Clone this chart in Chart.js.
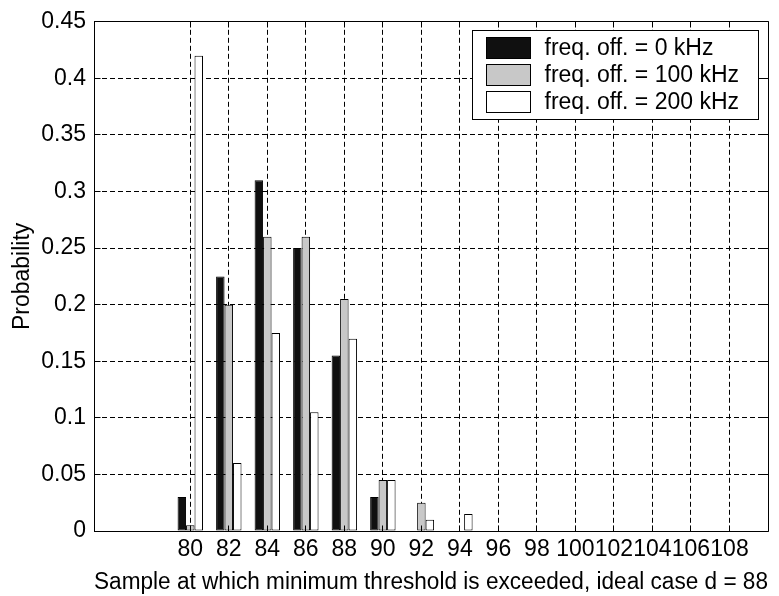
<!DOCTYPE html>
<html>
<head>
<meta charset="utf-8">
<script src="https://cdn.jsdelivr.net/npm/chart.js@4"></script>
<style>
  html, body { margin: 0; padding: 0; background: #fff; }
  canvas { display: block; }
</style>
</head>
<body>
<canvas id="c" width="779" height="596"></canvas>
<script>
// ---- data ----
const samples = [80, 82, 84, 86, 88, 90, 92, 94];
const seriesLabels = ['freq. off. = 0 kHz', 'freq. off. = 100 kHz', 'freq. off. = 200 kHz'];
const off0   = [0.030, 0.225, 0.310, 0.250, 0.155, 0.030, 0.000, 0.000];
const off100 = [0.005, 0.200, 0.260, 0.260, 0.205, 0.045, 0.025, 0.000];
const off200 = [0.420, 0.060, 0.175, 0.105, 0.170, 0.045, 0.010, 0.015];
const xTickValues = [80, 82, 84, 86, 88, 90, 92, 94, 96, 98, 100, 102, 104, 106, 108];
const xTickLabels = ['80','82','84','86','88','90','92','94','96','98','100','102','104','106','108'];
const yTickValues = [0, 0.05, 0.1, 0.15, 0.2, 0.25, 0.3, 0.35, 0.4, 0.45];
const yTickLabels = ['0','0.05','0.1','0.15','0.2','0.25','0.3','0.35','0.4','0.45'];
const xTitle = 'Sample at which minimum threshold is exceeded, ideal case d = 88';
const yTitle = 'Probability';

const FONT = "'Liberation Sans', Arial, sans-serif";
const FSIZE = 23;
const colors = ['#101010', '#c8c8c8', '#ffffff'];

const toPts = vals => samples.map((s, i) => ({ x: s, y: vals[i] }));

function align(px) { return Math.round(px - 0.5) + 0.5; }

const framePlugin = {
  id: 'frame',
  afterDatasetsDraw(chart) {
    const { ctx, chartArea: a, scales: { x, y } } = chart;
    const L = align(a.left), R = align(a.right), T = align(a.top), B = align(a.bottom);
    const tl = 6;
    ctx.save();
    ctx.setLineDash([]);
    ctx.strokeStyle = '#000';
    ctx.lineWidth = 1;
    ctx.beginPath();
    ctx.rect(L, T, R - L, B - T);
    xTickValues.forEach(v => {
      const px = align(x.getPixelForValue(v));
      ctx.moveTo(px, B); ctx.lineTo(px, B - tl);
      ctx.moveTo(px, T); ctx.lineTo(px, T + tl);
    });
    yTickValues.forEach(v => {
      const py = align(y.getPixelForValue(v));
      ctx.moveTo(L, py); ctx.lineTo(L + tl, py);
      ctx.moveTo(R, py); ctx.lineTo(R - tl, py);
    });
    ctx.stroke();

    // legend box inside the axes, top right
    ctx.font = FSIZE + 'px ' + FONT;
    const ds = chart.data.datasets;
    let tw = 0;
    ds.forEach(d => { tw = Math.max(tw, ctx.measureText(d.label).width); });
    const padL = 14, swW = 44, swH = 21, gap = 14, padR = 19, rowH = 27, padT = 17, padB = 18;
    const bw = padL + swW + gap + tw + padR;
    const bh = padT + rowH * (ds.length - 1) + padB;
    const bx = align(a.right - 10 - bw);
    const by = align(a.top + 9);
    ctx.fillStyle = '#fff';
    ctx.fillRect(bx, by, Math.round(bw), Math.round(bh));
    ctx.strokeRect(bx, by, Math.round(bw), Math.round(bh));
    ctx.textBaseline = 'middle';
    ctx.textAlign = 'left';
    ds.forEach((d, i) => {
      const cy = by + padT + i * rowH;
      const sx = bx + padL;
      ctx.fillStyle = d.backgroundColor;
      ctx.fillRect(sx, Math.round(cy - swH / 2) + 0.5, swW, swH);
      ctx.strokeRect(sx, Math.round(cy - swH / 2) + 0.5, swW, swH);
      ctx.fillStyle = '#000';
      ctx.fillText(d.label, sx + swW + gap, cy + 1);
    });
    ctx.restore();
  }
};

new Chart(document.getElementById('c'), {
  type: 'bar',
  data: {
    datasets: [
      { label: seriesLabels[0], data: toPts(off0),   backgroundColor: colors[0] },
      { label: seriesLabels[1], data: toPts(off100), backgroundColor: colors[1] },
      { label: seriesLabels[2], data: toPts(off200), backgroundColor: colors[2] }
    ]
  },
  options: {
    responsive: false,
    animation: false,
    devicePixelRatio: 1,
    layout: { padding: { top: 17, right: 11, left: 0, bottom: 0 } },
    datasets: {
      bar: {
        borderColor: '#000',
        borderWidth: 1,
        borderSkipped: false,
        categoryPercentage: 0.66,
        barPercentage: 1.0
      }
    },
    plugins: { legend: { display: false }, tooltip: { enabled: false } },
    scales: {
      x: {
        type: 'linear',
        min: 75, max: 110,
        offset: false,
        afterBuildTicks: s => { s.ticks = xTickValues.map(v => ({ value: v })); },
        afterFit: s => { s.height = 65; },
        grid: { offset: false, color: '#000', lineWidth: 1, drawTicks: false },
        border: { display: false, dash: [5, 3] },
        ticks: {
          autoSkip: false, maxRotation: 0, minRotation: 0, padding: 5,
          color: '#000', font: { family: FONT, size: FSIZE },
          callback: (v, i) => xTickLabels[i]
        },
        title: {
          display: true, text: xTitle, color: '#000',
          font: { family: FONT, size: FSIZE },
          padding: { top: 0, bottom: 0 }
        }
      },
      y: {
        type: 'linear',
        min: 0, max: 0.45,
        afterBuildTicks: s => { s.ticks = yTickValues.map(v => ({ value: v })); },
        afterFit: s => { s.width = 94; },
        grid: { color: '#000', lineWidth: 1, drawTicks: false },
        border: { display: false, dash: [5, 3] },
        ticks: {
          padding: 8, color: '#000', font: { family: FONT, size: FSIZE },
          callback: (v, i) => yTickLabels[i]
        },
        title: {
          display: true, text: yTitle, color: '#000',
          font: { family: FONT, size: FSIZE },
          padding: { top: 9, bottom: 0 }
        }
      }
    }
  },
  plugins: [framePlugin]
});
</script>
</body>
</html>
